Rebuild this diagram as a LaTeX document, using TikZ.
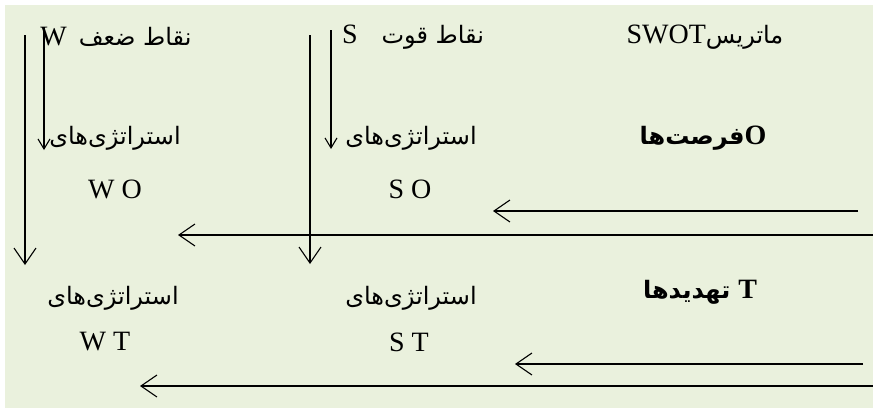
\documentclass[tikz,border=0pt]{standalone}
\usepackage{fontspec}
\setmainfont{Liberation Serif}
\newfontfamily\fa[Script=Arabic]{DejaVu Sans}
\TeXXeTstate=1
\usetikzlibrary{arrows.meta}
\definecolor{swotbg}{HTML}{EAF1DD}
\newcommand{\fat}[1]{\hbox{\fa\fontsize{24}{28}\selectfont\beginR #1\endR}}
\begin{document}
\begin{tikzpicture}[x=1pt,y=-1pt,
	big/.style={-{Straight Barb[length=16pt,width=22pt]},line width=1.1pt},
	small/.style={-{Straight Barb[length=10pt,width=12pt]},line width=1.1pt},
	txt/.style={font=\fontsize{28}{32}\selectfont,inner sep=0pt}]
	\useasboundingbox(0,0)rectangle(873,408);
	\fill[swotbg](5,5)rectangle(873,408);
	\node[txt](swot)at(705,37){SWOT\fat{ماتریس}};
	\node[txt](strength)at(413,37){S\hspace{24pt}\fat{نقاط قوت}};
	\node[txt](weakness)at(116,37){W\hspace{12pt}\fat{نقاط ضعف}};
	\node[txt,font=\fontsize{28}{32}\selectfont\bfseries](opp)at(703,138){\fat{فرصت^^^^200cها}O};
	\node[txt,font=\fontsize{28}{32}\selectfont\bfseries](threat)at(700,292){\fat{تهدیدها}\hspace{8pt}T};
	\node[txt](woStrat)at(115,138){\fat{استراتژی^^^^200cهای}};
	\node[txt](soStrat)at(411,138){\fat{استراتژی^^^^200cهای}};
	\node[txt](wo)at(115,189){W O};
	\node[txt](so)at(410,189){S O};
	\node[txt](wtStrat)at(113,298){\fat{استراتژی^^^^200cهای}};
	\node[txt](stStrat)at(411,298){\fat{استراتژی^^^^200cهای}};
	\node[txt](wt)at(105,342){W T};
	\node[txt](st)at(409,342){S T};
	\coordinate(wLongTop)at(25,35);
	\coordinate(wLongEnd)at(25,265);
	\coordinate(wShortTop)at(44,27);
	\coordinate(wShortEnd)at(44,150);
	\coordinate(sLongTop)at(310,35);
	\coordinate(sLongEnd)at(310,264);
	\coordinate(sShortTop)at(331,30);
	\coordinate(sShortEnd)at(331,149);
	\coordinate(oShortStart)at(858,211);
	\coordinate(oShortEnd)at(493,211);
	\coordinate(oLongStart)at(873,235);
	\coordinate(oLongEnd)at(178,235);
	\coordinate(tShortStart)at(863,364);
	\coordinate(tShortEnd)at(515,364);
	\coordinate(tLongStart)at(873,386);
	\coordinate(tLongEnd)at(140,386);
	\draw[big](wLongTop)--(wLongEnd);
	\draw[small](wShortTop)--(wShortEnd);
	\draw[big](sLongTop)--(sLongEnd);
	\draw[small](sShortTop)--(sShortEnd);
	\draw[big](oShortStart)--(oShortEnd);
	\draw[big](oLongStart)--(oLongEnd);
	\draw[big](tShortStart)--(tShortEnd);
	\draw[big](tLongStart)--(tLongEnd);
\end{tikzpicture}
\end{document}
